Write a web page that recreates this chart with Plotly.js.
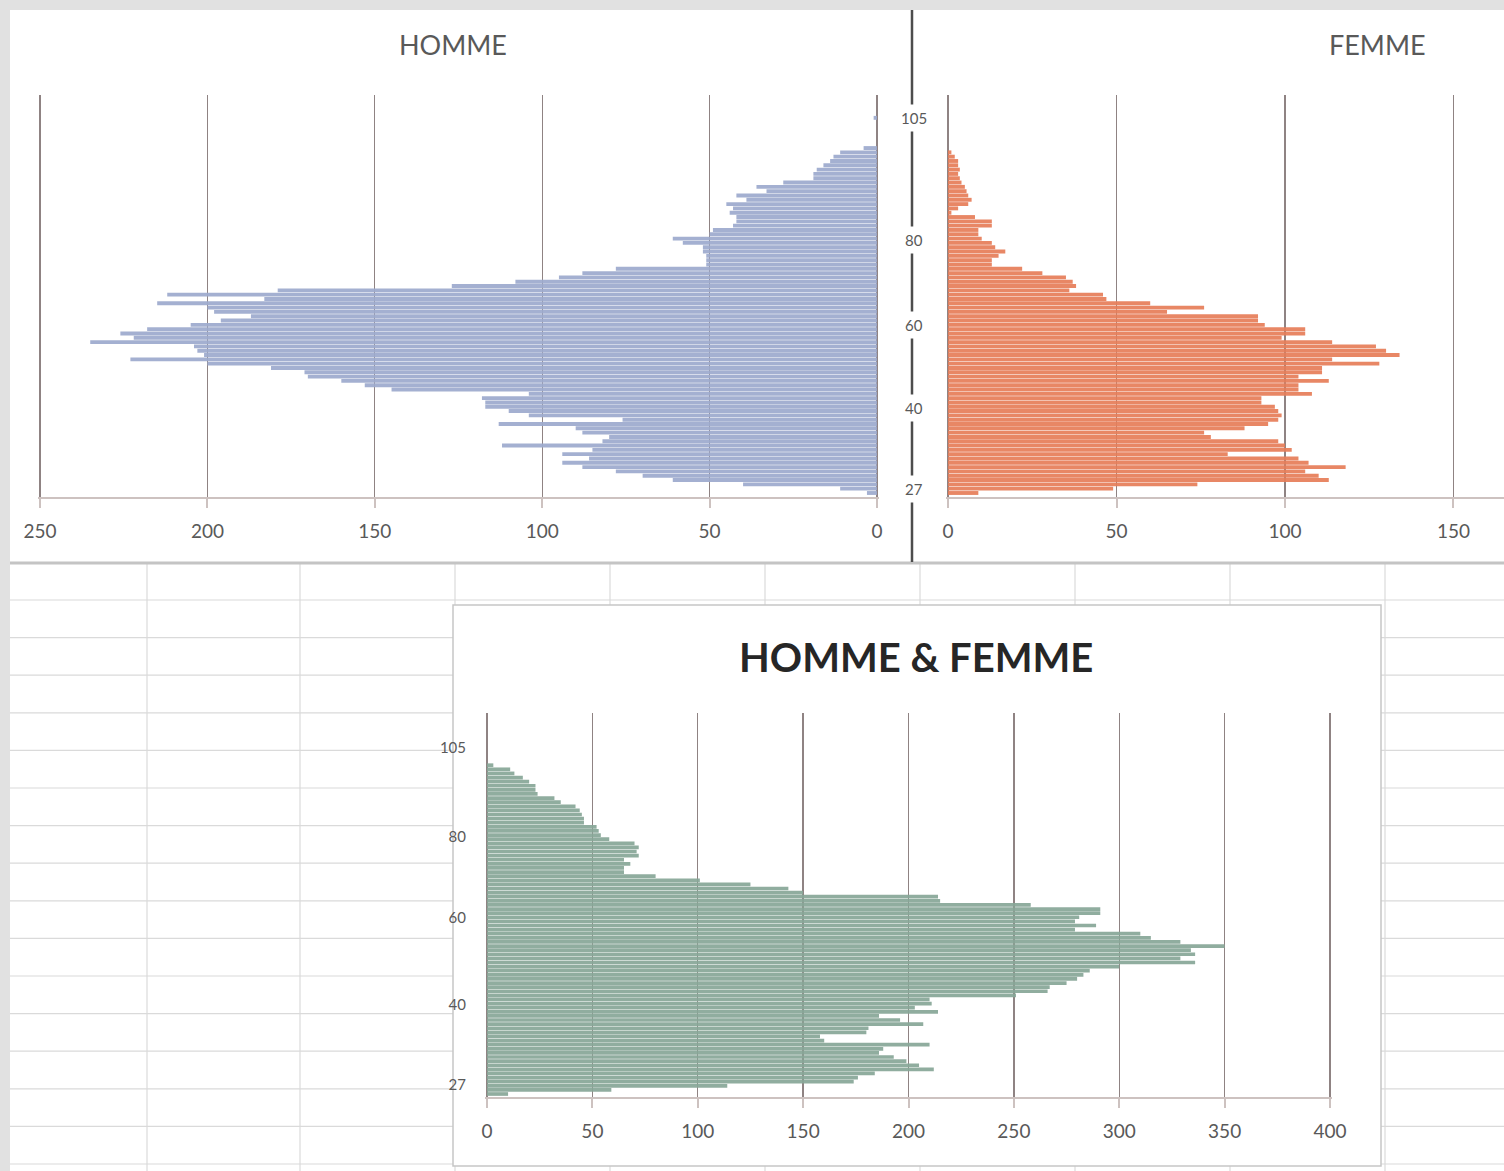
<!DOCTYPE html>
<html>
<head>
<meta charset="utf-8">
<script src="https://cdn.plot.ly/plotly-3.0.1.min.js"></script>
<style>
  html, body { margin: 0; padding: 0; background: #e1e1e1; }
  #chart { width: 1504px; height: 1171px; }
</style>
</head>
<body>
<div id="chart"></div>
<script>
// ---------- DATA (bottom row first) ----------
const homme = [3,11,40,61,70,78,88,94,86,94, 85,112,82,80,88,90,113,76,104,110,
  117,117,118,104,145,153,160,170,171,181, 200,223,201,203,204,235,222,226,218,205,
  196,187,198,200,215,183,212,179,127,108, 95,88,78,51,51,51,52,52,58,61,
  50,49,43,42,42,44,43,45,39,42, 33,36,28,19,19,18,16,14,13,11,
  4,0,0,0,0,0,0,1];
const femme = [9,49,74,113,110,106,118,107,104,83, 102,100,98,78,76,88,95,98,99,98,
  97,93,93,108,104,104,113,104,111,111, 128,114,134,130,127,114,99,106,106,94,
  92,92,65,76,60,47,46,36,38,37, 35,28,22,13,13,15,17,14,13,10,
  9,9,13,13,8,1,3,6,7,6, 5.5,5,4,3.5,3,3.5,3,3,2,1,
  0,0,0,0,0,0,0,0];
const hommeFemme = [10,59,114,174,176,184,212,205,199,193, 186,188,210,160,158,180,181,207,196,186,
  214,203,211,210,251,266,267,275,280,283, 286,300,336,329,336,334,350,329,315,310,
  279,289,279,281,291,291,258,215,214,150, 143,125,101,80,65,65,68,65,72,71,
  72,70,58,54,53,52,46,46,45,44, 42,35,32,24,23,23,20,17,13,11,
  3,0,0,0,0,0,0,0];
const ageLabels = ['27', '40', '60', '80', '105'];
const topLabelRows = [1, 19.7, 38.9, 58.7, 87];
const bottomLabelRows = [2.2, 21.7, 42.8, 62.7, 84.2];
const rows = homme.map((_, i) => i);

// ---------- LAYOUT HELPERS ----------
const W = 1504, H = 1171;
const px = x => x / W;
const py = y => 1 - y / H;

const gridCol = '#8f8383';
const axisCol = '#cdc2c0';
const textCol = '#595959';
const FONT = 'Lato, "Open Sans", sans-serif';

const xBase = {
  showgrid: true, gridcolor: gridCol, gridwidth: 1.3,
  zeroline: false, showline: true, linecolor: axisCol, linewidth: 2,
  ticks: 'outside', ticklen: 9, tickcolor: axisCol, tickwidth: 2,
  tickfont: {family: FONT, size: 19, color: textCol},
  ticklabelstandoff: 7, dtick: 50, fixedrange: true
};
const yBase = {
  showgrid: false, zeroline: false, showline: false, ticks: '',
  showticklabels: false, fixedrange: true
};

const traces = [
  {type: 'bar', orientation: 'h', x: homme, y: rows, xaxis: 'x', yaxis: 'y',
   marker: {color: '#9eabce'}, opacity: 0.93, hoverinfo: 'x+y'},
  {type: 'bar', orientation: 'h', x: femme, y: rows, xaxis: 'x2', yaxis: 'y2',
   marker: {color: '#e77e5a'}, opacity: 0.93, hoverinfo: 'x+y'},
  {type: 'bar', orientation: 'h', x: hommeFemme, y: rows, xaxis: 'x3', yaxis: 'y3',
   marker: {color: '#88a798'}, opacity: 0.93, hoverinfo: 'x+y'}
];

const shapes = [];
shapes.push({type: 'rect', xref: 'paper', yref: 'paper', x0: px(10), x1: 1, y0: py(562), y1: py(10),
  fillcolor: '#ffffff', line: {width: 0}, layer: 'below'});
shapes.push({type: 'rect', xref: 'paper', yref: 'paper', x0: px(10), x1: 1, y0: 0, y1: py(564),
  fillcolor: '#ffffff', line: {width: 0}, layer: 'below'});
[147, 300, 455, 610, 765, 920, 1075, 1230, 1385].forEach(x => shapes.push({
  type: 'line', xref: 'paper', yref: 'paper', x0: px(x), x1: px(x), y0: 0, y1: py(564),
  line: {color: '#dadada', width: 1.2}, layer: 'below'}));
for (let y = 600; y < H; y += 37.6) shapes.push({
  type: 'line', xref: 'paper', yref: 'paper', x0: px(10), x1: 1, y0: py(y), y1: py(y),
  line: {color: '#dadada', width: 1.2}, layer: 'below'});
shapes.push({type: 'line', xref: 'paper', yref: 'paper', x0: px(10), x1: 1, y0: py(563), y1: py(563),
  line: {color: '#c4c4c4', width: 3}, layer: 'below'});
shapes.push({type: 'rect', xref: 'paper', yref: 'paper', x0: px(453), x1: px(1381), y0: py(1166), y1: py(605),
  fillcolor: '#ffffff', line: {color: '#c6c6c6', width: 1.5}, layer: 'below'});
shapes.push({type: 'line', xref: 'paper', yref: 'paper', x0: px(912), x1: px(912), y0: py(562), y1: py(10),
  line: {color: '#4d4d4d', width: 2.5}});

const annotations = [
  {text: 'HOMME', xref: 'paper', yref: 'paper', x: px(453), y: py(45), xanchor: 'center', yanchor: 'middle',
   showarrow: false, font: {family: FONT, size: 27, color: textCol}},
  {text: 'FEMME', xref: 'paper', yref: 'paper', x: px(1377), y: py(45), xanchor: 'center', yanchor: 'middle',
   showarrow: false, font: {family: FONT, size: 27, color: textCol}},
  {text: '<b>HOMME &amp; FEMME</b>', xref: 'paper', yref: 'paper', x: px(916), y: py(657),
   xanchor: 'center', yanchor: 'middle', showarrow: false,
   font: {family: FONT, size: 40, color: '#262626'}}
];
ageLabels.forEach((t, k) => annotations.push({
  text: t, xref: 'paper', yref: 'y2', x: px(914), y: topLabelRows[k], xanchor: 'center', yanchor: 'middle',
  showarrow: false, bgcolor: '#ffffff', borderpad: 4, font: {family: FONT, size: 15, color: textCol}}));

const layout = {
  width: W, height: H,
  margin: {l: 0, r: 0, t: 0, b: 0},
  paper_bgcolor: '#e1e1e1', plot_bgcolor: 'rgba(0,0,0,0)',
  showlegend: false, bargap: 0.1,
  font: {family: FONT, color: textCol},
  xaxis: Object.assign({}, xBase, {domain: [px(38), px(879)], range: [250.6, -0.6], anchor: 'y'}),
  yaxis: Object.assign({}, yBase, {domain: [py(497), py(95)], range: [-0.93, 92.3], anchor: 'x'}),
  xaxis2: Object.assign({}, xBase, {domain: [px(946), 1], range: [-0.6, 165], anchor: 'y2'}),
  yaxis2: Object.assign({}, yBase, {domain: [py(497), py(95)], range: [-0.93, 92.3], anchor: 'x2'}),
  xaxis3: Object.assign({}, xBase, {domain: [px(485), px(1332)], range: [-0.95, 400.95], anchor: 'y3'}),
  yaxis3: Object.assign({}, yBase, {domain: [py(1097), py(713)], range: [-0.73, 92.7], anchor: 'x3',
    showticklabels: true, tickmode: 'array', tickvals: bottomLabelRows, ticktext: ageLabels,
    tickfont: {family: FONT, size: 15, color: textCol}, ticklabelstandoff: 18}),
  shapes: shapes,
  annotations: annotations
};

Plotly.newPlot('chart', traces, layout, {displayModeBar: false, staticPlot: true});
</script>
</body>
</html>
